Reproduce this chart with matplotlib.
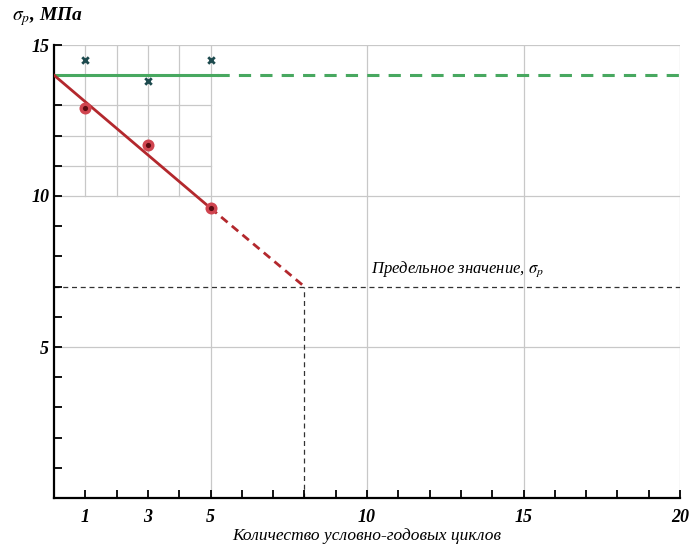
import matplotlib
matplotlib.use("Agg")
import matplotlib.pyplot as plt
import numpy as np

# data
cycles = [1, 3, 5]
sigma_pts = [12.9, 11.7, 9.6]          # red points
sigma_cross = [14.5, 13.8, 14.5]       # crosses
sigma_init = 14.0                      # green level
fit_x = [0, 5]
fit_y = [14.0, 9.6]
extrap_x = [5, 8]
extrap_y = [9.6, 7.0]
sigma_lim = 7.0
n_lim = 8
xtick_lab = [1, 3, 5, 10, 15, 20]
ytick_lab = [5, 10, 15]

plt.rcParams['font.family'] = ['Liberation Serif', 'DejaVu Serif']
plt.rcParams['mathtext.fontset'] = 'stix'

fig = plt.figure(figsize=(6.89, 5.45), dpi=100)
ax = fig.add_axes([54/689, 47/545, 626/689, 453/545])
ax.set_xlim(0, 20)
ax.set_ylim(0, 15)

gc = '#c8c8c8'
# coarse grid
for v in [5, 10, 15, 20]:
    ax.axvline(v, color=gc, lw=0.9, zorder=0)
for v in [5, 10, 15]:
    ax.axhline(v, color=gc, lw=0.9, zorder=0)
# fine grid in the upper-left corner
for v in range(1, 5):
    ax.plot([v, v], [10, 15], color=gc, lw=0.9, zorder=0)
for v in range(11, 15):
    ax.plot([0, 5], [v, v], color=gc, lw=0.9, zorder=0)

# limit lines
ax.plot([0, 20], [sigma_lim, sigma_lim], color='#333333', lw=0.9, ls=(0, (4, 3)), zorder=1)
ax.plot([n_lim, n_lim], [0, sigma_lim], color='#333333', lw=0.9, ls=(0, (4, 3)), zorder=1)

# green level
ax.plot([0, 5.2], [sigma_init, sigma_init], color='#48a860', lw=2.2, zorder=2)
ax.plot([5.2, 20], [sigma_init, sigma_init], color='#48a860', lw=2.2, ls=(0, (4, 3)), zorder=2)

# red trend
ax.plot(fit_x, fit_y, color='#b3282d', lw=2, zorder=3)
ax.plot(extrap_x, extrap_y, color='#b3282d', lw=2, ls=(0, (3, 2)), zorder=3)

ax.scatter(cycles, sigma_pts, s=75, color='#d04550', zorder=4, lw=0)
ax.scatter(cycles, sigma_pts, s=14, color='#5a0a10', zorder=5, lw=0)
ax.scatter(cycles, sigma_cross, marker='x', s=22, color='#1d4a4e', lw=2, zorder=4)

for s in ['top', 'right']:
    ax.spines[s].set_visible(False)
for s in ['left', 'bottom']:
    ax.spines[s].set_linewidth(1.6)

ax.set_xticks(range(1, 21))
ax.set_xticklabels([str(v) if v in xtick_lab else '' for v in range(1, 21)])
ax.set_yticks(range(1, 16))
ax.set_yticklabels([str(v) if v in ytick_lab else '' for v in range(1, 16)])
ax.tick_params(direction='in', length=6, width=1.3, labelsize=13)
ax.tick_params(axis='x', pad=8)
for t in ax.get_xticklabels() + ax.get_yticklabels():
    t.set_fontstyle('italic')
    t.set_fontweight('bold')

ax.text(12.9, 7.25, r'Предельное значение, $\sigma_p$', fontsize=12, style='italic',
        ha='center', va='bottom')
ax.set_xlabel('Количество условно-годовых циклов', fontsize=12.5, style='italic', labelpad=1)
fig.text(12/689, 1 - 17/545, r'$\sigma_p$, МПа', fontsize=14, style='italic',
         fontweight='bold', ha='left', va='center')

fig.savefig('out.png', dpi=100)
